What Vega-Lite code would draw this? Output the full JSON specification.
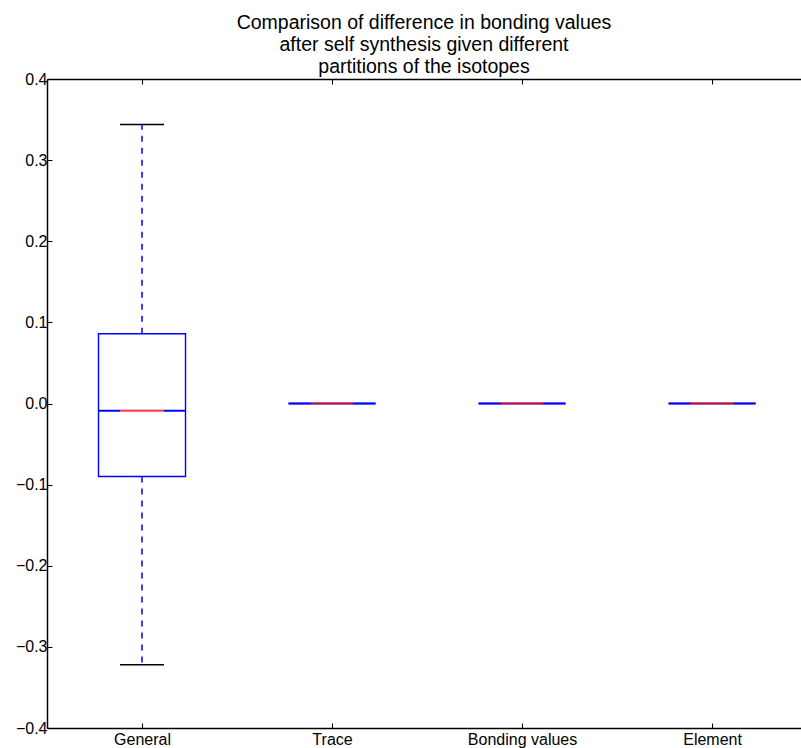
{
  "$schema": "https://vega.github.io/schema/vega-lite/v6.json",
  "width": 754,
  "height": 649,
  "autosize": {"type": "none"},
  "padding": {"left": 47, "top": 79, "right": 0, "bottom": 20},
  "background": "white",
  "config": {
    "font": "Liberation Sans",
    "view": {"stroke": null},
    "axis": {
      "grid": false,
      "domainColor": "black",
      "domainWidth": 1.5,
      "tickColor": "black",
      "tickWidth": 1,
      "tickSize": -5,
      "labelColor": "black",
      "labelFontSize": 16,
      "labelFlush": false,
      "labelOverlap": false,
      "labelBound": false,
      "title": null
    }
  },
  "title": {
    "text": ["Comparison of difference in bonding values", "after self synthesis given different", "partitions of the isotopes"],
    "fontSize": 19.5,
    "fontWeight": "normal",
    "color": "black",
    "lineHeight": 22,
    "anchor": "middle",
    "frame": "group",
    "offset": -6
  },
  "data": {
    "values": [
      {"cat": "General", "pos": 1, "lo": -0.322, "q1": -0.090, "med": -0.009, "q3": 0.086, "hi": 0.344},
      {"cat": "Trace", "pos": 2, "lo": 0, "q1": 0, "med": 0, "q3": 0, "hi": 0},
      {"cat": "Bonding values", "pos": 3, "lo": 0, "q1": 0, "med": 0, "q3": 0, "hi": 0},
      {"cat": "Element", "pos": 4, "lo": 0, "q1": 0, "med": 0, "q3": 0, "hi": 0}
    ]
  },
  "resolve": {"axis": {"x": "independent"}},
  "layer": [
    {
      "mark": {"type": "rule", "color": "#0000ff", "strokeWidth": 1.5, "strokeDash": [6, 6]},
      "encoding": {
        "x": {"field": "pos", "type": "quantitative", "scale": {"domain": [0.5, 4.468], "nice": false, "zero": false, "padding": 0},
              "axis": {"orient": "bottom", "values": [1, 2, 3, 4], "labelPadding": 8,
                       "labelExpr": "['General','Trace','Bonding values','Element'][datum.value-1]"}},
        "y": {"field": "q3", "type": "quantitative", "scale": {"domain": [-0.4, 0.4], "nice": false, "zero": false, "padding": 0},
              "axis": {"values": [-0.4, -0.3, -0.2, -0.1, 0, 0.1, 0.2, 0.3, 0.4], "format": ".1f", "labelPadding": 5}},
        "y2": {"field": "hi"}
      }
    },
    {
      "mark": {"type": "rule", "color": "#0000ff", "strokeWidth": 1.5, "strokeDash": [6, 6]},
      "encoding": {
        "x": {"field": "pos", "type": "quantitative", "axis": null},
        "y": {"field": "q1", "type": "quantitative"},
        "y2": {"field": "lo"}
      }
    },
    {
      "mark": {"type": "tick", "orient": "horizontal", "color": "black", "size": 44, "thickness": 1.5, "opacity": 1},
      "encoding": {
        "x": {"field": "pos", "type": "quantitative", "axis": null},
        "y": {"field": "hi", "type": "quantitative"}
      }
    },
    {
      "mark": {"type": "tick", "orient": "horizontal", "color": "black", "size": 44, "thickness": 1.5, "opacity": 1},
      "encoding": {
        "x": {"field": "pos", "type": "quantitative", "axis": null},
        "y": {"field": "lo", "type": "quantitative"}
      }
    },
    {
      "mark": {"type": "tick", "orient": "horizontal", "color": "#0000ff", "size": 87, "thickness": 2, "opacity": 1},
      "encoding": {
        "x": {"field": "pos", "type": "quantitative", "axis": null},
        "y": {"field": "med", "type": "quantitative"}
      }
    },
    {
      "mark": {"type": "tick", "orient": "horizontal", "color": "white", "size": 43, "thickness": 2.5, "opacity": 1},
      "encoding": {
        "x": {"field": "pos", "type": "quantitative", "axis": null},
        "y": {"field": "med", "type": "quantitative"}
      }
    },
    {
      "mark": {"type": "bar", "orient": "vertical", "size": 87, "fill": null, "fillOpacity": 0, "stroke": "#0000ff", "strokeWidth": 1.4},
      "encoding": {
        "x": {"field": "pos", "type": "quantitative", "axis": null},
        "y": {"field": "q1", "type": "quantitative"},
        "y2": {"field": "q3"}
      }
    },
    {
      "mark": {"type": "tick", "orient": "horizontal", "color": "#ff0000", "size": 43, "thickness": 2, "opacity": 0.75},
      "encoding": {
        "x": {"field": "pos", "type": "quantitative", "axis": null},
        "y": {"field": "med", "type": "quantitative"}
      }
    },
    {
      "mark": {"type": "rule", "opacity": 0},
      "encoding": {
        "x": {"field": "pos", "type": "quantitative",
              "axis": {"orient": "top", "values": [1, 2, 3, 4], "labels": false}}
      }
    }
  ]
}
